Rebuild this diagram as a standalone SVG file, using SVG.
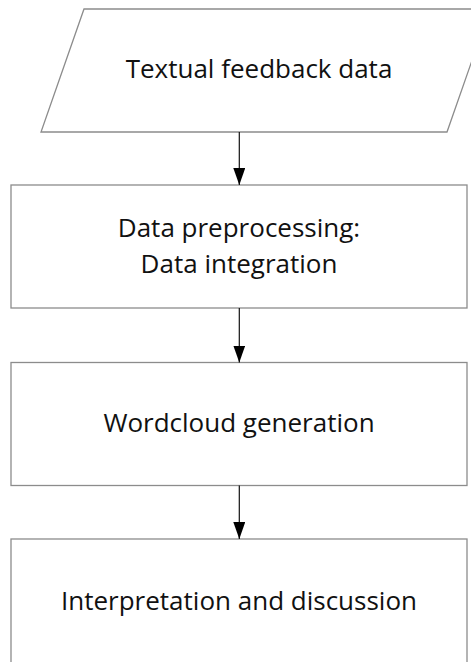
<svg xmlns="http://www.w3.org/2000/svg" width="471" height="662" viewBox="0 0 471 662">
<style>
.box{fill:#fff;stroke:#8c8c8c;stroke-width:1.3}
.lbl{font-family:"Open Sans","Liberation Sans",sans-serif;font-size:26px;fill:#111;text-anchor:middle}
.con{stroke:#111;stroke-width:1.2;fill:none}
</style>
<defs>
<marker id="ah" viewBox="0 0 12 17" refX="12" refY="6" markerWidth="12" markerHeight="17" markerUnits="userSpaceOnUse" orient="auto">
<path d="M0,0 L12,6 L0,12 z" fill="#000"/>
</marker>
<marker id="ahd" viewBox="0 0 12 17" refX="6" refY="17" markerWidth="12" markerHeight="17" markerUnits="userSpaceOnUse" orient="0">
<path d="M0,0 L12,0 L6,17 z" fill="#000"/>
</marker>
</defs>
<rect width="471" height="662" fill="#fff"/>
<g id="n1">
<polygon class="box" points="84,9 490,9 447,132 41,132"/>
<text class="lbl" x="259" y="78">Textual feedback data</text>
</g>
<g id="n2">
<rect class="box" x="11" y="185" width="456" height="123"/>
<text class="lbl" x="239" y="237">Data preprocessing:</text>
<text class="lbl" x="239" y="273">Data integration</text>
</g>
<g id="n3">
<rect class="box" x="11" y="362.5" width="456" height="123"/>
<text class="lbl" x="239" y="432">Wordcloud generation</text>
</g>
<g id="n4">
<rect class="box" x="11" y="539" width="456" height="140"/>
<text class="lbl" x="239" y="610">Interpretation and discussion</text>
</g>
<g id="connectors">
<line class="con" x1="239.3" y1="132" x2="239.3" y2="185" marker-end="url(#ahd)"/>
<line class="con" x1="239.3" y1="308" x2="239.3" y2="362.5" marker-end="url(#ahd)"/>
<line class="con" x1="239.3" y1="485.5" x2="239.3" y2="539" marker-end="url(#ahd)"/>
</g>
</svg>
